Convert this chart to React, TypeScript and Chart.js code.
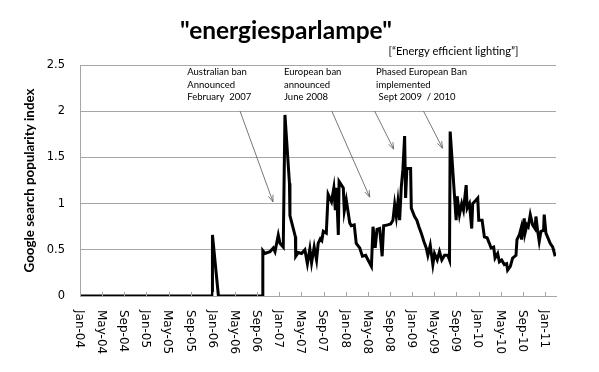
import React, { useEffect, useRef } from 'react';
import { Chart, registerables } from 'chart.js';
Chart.register(...registerables);

// months since Jan-04 (fractional, weekly-ish samples)
const months = [
  0, 23.87, 23.93, 25.01, 33.0, 33.03,
  33.42, 34.32, 34.92, 35.23, 35.82, 36.13, 36.72, 37.03, 37.84, 37.93,
  38.92, 38.97, 39.42, 40.04, 40.63, 41.08, 41.53, 41.84, 42.31, 42.74,
  43.03, 43.42, 43.69, 43.96, 44.5, 44.83, 45.44, 45.86, 46.13, 46.34,
  46.67, 46.81, 47.24, 47.57, 47.75, 48.11, 48.74, 49.01, 49.55, 49.91,
  50.54, 51.03, 51.62, 52.04, 52.65, 52.94, 53.33, 53.66, 54.14, 54.59,
  54.86, 55.59, 56.13, 56.54, 56.85, 57.15, 57.44, 57.75, 58.05, 58.34,
  58.65, 58.83, 59.06, 59.73, 59.86, 60.45, 60.86, 61.23, 61.66, 62.13,
  62.56, 62.85, 63.28, 63.75, 64.05, 64.54, 64.95, 65.37, 65.86, 66.45,
  66.76, 66.88, 67.96, 68.14, 68.56, 68.97, 69.28, 69.77, 69.95, 70.36,
  70.77, 70.95, 71.57, 71.86, 72.04, 72.65, 73.06, 73.55, 73.96, 74.27,
  74.74, 74.99, 75.46, 75.77, 76.18, 76.67, 77.08, 77.26, 77.75, 78.16,
  78.77, 78.95, 79.37, 79.68, 79.78, 80.27, 80.4, 80.76, 80.99, 81.35,
  81.77, 82.2, 82.38, 82.67, 82.97, 83.28, 83.75, 83.87, 84.18, 84.47,
  84.95, 85.41, 85.86,
];
const popularity = [
  0, 0, 0.66, 0, 0, 0.49,
  0.46, 0.48, 0.52, 0.48, 0.66, 0.57, 0.53, 1.96, 1.22, 0.87,
  0.64, 0.43, 0.47, 0.46, 0.5, 0.35, 0.51, 0.36, 0.53, 0.39,
  0.57, 0.62, 0.6, 0.7, 0.68, 1.1, 1.02, 1.17, 0.93, 1.17,
  0.66, 1.24, 1.2, 1.17, 0.92, 1.04, 0.79, 0.76, 0.77, 0.57,
  0.52, 0.43, 0.44, 0.39, 0.32, 0.75, 0.52, 0.72, 0.73, 0.43,
  0.76, 0.77, 0.78, 0.82, 0.99, 0.86, 1.02, 0.82, 1.18, 1.37,
  1.73, 1.06, 1.38, 1.38, 0.95, 0.86, 0.82, 0.75, 0.68, 0.59,
  0.52, 0.44, 0.55, 0.34, 0.46, 0.39, 0.48, 0.39, 0.44, 0.44,
  0.39, 1.78, 0.82, 1.08, 0.88, 1.0, 0.93, 1.2, 0.95, 1.0,
  0.73, 1.0, 1.04, 1.06, 0.82, 0.82, 0.64, 0.63, 0.57, 0.52,
  0.53, 0.41, 0.46, 0.37, 0.39, 0.34, 0.35, 0.28, 0.32, 0.41,
  0.44, 0.61, 0.66, 0.73, 0.61, 0.84, 0.68, 0.77, 0.75, 0.88,
  0.77, 0.73, 0.86, 0.71, 0.59, 0.7, 0.71, 0.88, 0.68, 0.64,
  0.57, 0.53, 0.43,
];
const tickLabels = [
  'Jan-04', 'May-04', 'Sep-04', 'Jan-05', 'May-05', 'Sep-05', 'Jan-06', 'May-06',
  'Sep-06', 'Jan-07', 'May-07', 'Sep-07', 'Jan-08', 'May-08', 'Sep-08', 'Jan-09',
  'May-09', 'Sep-09', 'Jan-10', 'May-10', 'Sep-10', 'Jan-11',
];
const titleText = '"energiesparlampe"';
const subtitleText = '[“Energy efficient lighting”]';
const yTitleText = 'Google search popularity index';
const annotationTexts = [
  ['Australian ban', 'Announced', 'February  2007'],
  ['European ban', 'announced', 'June 2008'],
  ['Phased European Ban', 'implemented', ' Sept 2009  / 2010'],
];
const annotationMonths = [19.37, 36.85, 53.5];
const annotationTopValue = 2.39;
const arrowStartMonths = [28.92, 45.5, 53.24, 62.07];
const arrowStartValues = [2.0, 2.0, 2.0, 2.0];
const arrowEndMonths = [34.86, 52.34, 56.67, 65.5];
const arrowEndValues = [1.02, 1.07, 1.59, 1.6];

const SANS = 'Lato, "Open Sans", sans-serif';
const TICKFONT = '"DejaVu Sans", Verdana, sans-serif';

function fitSize(ctx: CanvasRenderingContext2D, text: string, weight: string, target: number) {
  ctx.font = `${weight} 100px ${SANS}`;
  const w = ctx.measureText(text).width;
  return (100 * target) / w;
}

const decorPlugin = {
  id: 'decor',
  afterDraw(chart: any) {
    const ctx: CanvasRenderingContext2D = chart.ctx;
    const xs = chart.scales.x;
    const ys = chart.scales.y;
    const area = chart.chartArea;
    ctx.save();
    // inward x tick marks
    ctx.strokeStyle = '#a6a6a6';
    ctx.lineWidth = 1;
    xs.ticks.forEach((t: any) => {
      const px = Math.round(xs.getPixelForValue(t.value)) + 0.5;
      ctx.beginPath();
      ctx.moveTo(px, area.bottom);
      ctx.lineTo(px, area.bottom - 4);
      ctx.stroke();
    });
    // rotated x labels (reading downward)
    ctx.fillStyle = '#000';
    ctx.font = `12px ${TICKFONT}`;
    ctx.textAlign = 'left';
    ctx.textBaseline = 'middle';
    xs.ticks.forEach((t: any) => {
      const idx = Math.round(t.value / 4);
      const label = tickLabels[idx];
      if (!label) return;
      const px = xs.getPixelForValue(t.value);
      ctx.save();
      ctx.translate(px - 1, area.bottom + 14);
      ctx.rotate(Math.PI / 2);
      ctx.fillText(label, 0, 0);
      ctx.restore();
    });
    // title
    ctx.textBaseline = 'alphabetic';
    let s = fitSize(ctx, titleText, 'bold', 212);
    ctx.font = `bold ${s}px ${SANS}`;
    ctx.fillText(titleText, 180, 38.5);
    s = fitSize(ctx, subtitleText, 'normal', 130);
    ctx.font = `${s}px ${SANS}`;
    ctx.fillText(subtitleText, 388.5, 55);
    // y title
    s = fitSize(ctx, yTitleText, 'bold', 184);
    ctx.font = `bold ${s}px ${SANS}`;
    ctx.save();
    ctx.translate(30, (area.top + area.bottom) / 2);
    ctx.rotate(-Math.PI / 2);
    ctx.textAlign = 'center';
    ctx.textBaseline = 'middle';
    ctx.fillText(yTitleText, 0, 0);
    ctx.restore();
    // annotations
    s = fitSize(ctx, 'Phased European Ban', 'normal', 91);
    ctx.font = `${s}px ${SANS}`;
    ctx.textAlign = 'left';
    const top = ys.getPixelForValue(annotationTopValue);
    annotationTexts.forEach((lines, i) => {
      const px = xs.getPixelForValue(annotationMonths[i]);
      lines.forEach((ln, j) => ctx.fillText(ln, px, top + j * 12.4));
    });
    // arrows
    ctx.strokeStyle = '#555';
    ctx.lineWidth = 0.8;
    arrowStartMonths.forEach((m, i) => {
      const x1 = xs.getPixelForValue(m);
      const y1 = ys.getPixelForValue(arrowStartValues[i]);
      const x2 = xs.getPixelForValue(arrowEndMonths[i]);
      const y2 = ys.getPixelForValue(arrowEndValues[i]);
      ctx.beginPath();
      ctx.moveTo(x1, y1);
      ctx.lineTo(x2, y2);
      const a = Math.atan2(y2 - y1, x2 - x1);
      const L = 7;
      ctx.moveTo(x2, y2);
      ctx.lineTo(x2 - L * Math.cos(a - 0.35), y2 - L * Math.sin(a - 0.35));
      ctx.moveTo(x2, y2);
      ctx.lineTo(x2 - L * Math.cos(a + 0.35), y2 - L * Math.sin(a + 0.35));
      ctx.stroke();
    });
    ctx.restore();
  },
};

export default function App() {
  const ref = useRef<HTMLCanvasElement>(null);
  useEffect(() => {
    if (!ref.current) return;
    const data = months.map((m, i) => ({ x: m, y: popularity[i] }));
    const chart = new Chart(ref.current, {
      type: 'line',
      data: {
        datasets: [
          {
            data,
            borderColor: '#000',
            borderWidth: 3,
            pointRadius: 0,
            tension: 0,
            fill: false,
            borderJoinStyle: 'miter',
          },
        ],
      },
      options: {
        animation: false,
        responsive: false,
        devicePixelRatio: 1,
        layout: { padding: { top: 65, right: 43, bottom: 76, left: 0 } },
        plugins: { legend: { display: false }, tooltip: { enabled: false }, title: { display: false } },
        scales: {
          x: {
            type: 'linear',
            min: 0,
            max: 86,
            ticks: { display: false, stepSize: 4, includeBounds: false },
            grid: { display: true, drawOnChartArea: false, drawTicks: false },
            border: { display: true, color: '#a6a6a6' },
            afterFit: (sc: any) => { sc.height = 0; },
          },
          y: {
            min: 0,
            max: 2.5,
            ticks: {
              stepSize: 0.5,
              color: '#000',
              font: { family: TICKFONT, size: 11.5 },
              padding: 15,
              callback: (v: any) => `${v}`,
            },
            grid: { color: '#a6a6a6', drawTicks: false },
            border: { display: true, color: '#a6a6a6' },
            afterFit: (sc: any) => { sc.width = 80; },
          },
        },
      },
      plugins: [decorPlugin],
    });
    return () => chart.destroy();
  }, []);
  return (
    <div style={{ position: 'fixed', left: 0, top: 0, width: 599, height: 372, background: '#fff' }}>
      <canvas ref={ref} width={599} height={372} />
    </div>
  );
}
